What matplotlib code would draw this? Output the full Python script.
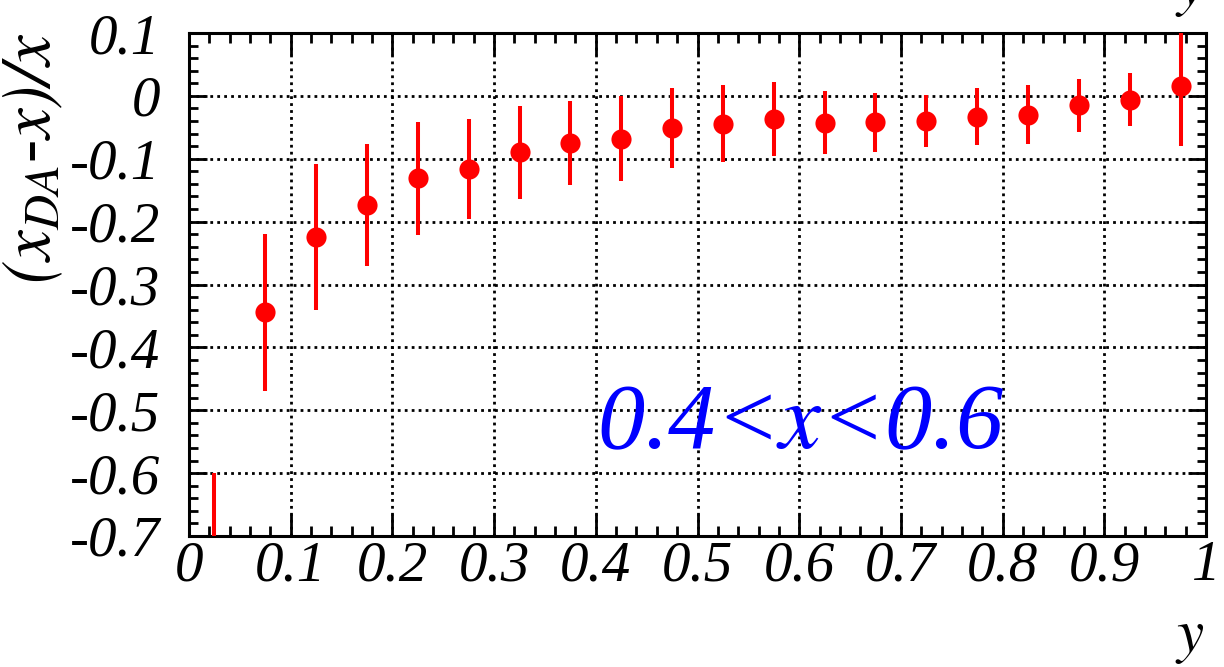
import matplotlib
matplotlib.use("Agg")
import matplotlib.pyplot as plt
from matplotlib.font_manager import FontProperties
from matplotlib.ticker import MultipleLocator, FixedLocator, FixedFormatter

plt.rcParams['font.family'] = ['Liberation Serif', 'DejaVu Serif']
plt.rcParams['font.style'] = 'italic'
plt.rcParams['mathtext.fontset'] = 'stix'
plt.rcParams['mathtext.default'] = 'it'
plt.rcParams['axes.unicode_minus'] = False

# ---- data ----
y_centers = [0.025, 0.075, 0.125, 0.175, 0.225, 0.275, 0.325, 0.375, 0.425, 0.475,
             0.525, 0.575, 0.625, 0.675, 0.725, 0.775, 0.825, 0.875, 0.925, 0.975]
rel_diff = [-0.90, -0.344, -0.224, -0.173, -0.131, -0.116, -0.090, -0.075, -0.068, -0.051,
            -0.044, -0.037, -0.043, -0.042, -0.040, -0.033, -0.030, -0.015, -0.006, 0.015]
rel_err = [0.30, 0.125, 0.116, 0.097, 0.090, 0.080, 0.074, 0.067, 0.068, 0.063,
           0.061, 0.059, 0.050, 0.047, 0.041, 0.045, 0.047, 0.042, 0.042, 0.095]

xtick_vals = [0, 0.1, 0.2, 0.3, 0.4, 0.5, 0.6, 0.7, 0.8, 0.9, 1.0]
xtick_labels = ["0", "0.1", "0.2", "0.3", "0.4", "0.5", "0.6", "0.7", "0.8", "0.9", "1"]
ytick_vals = [0.1, 0, -0.1, -0.2, -0.3, -0.4, -0.5, -0.6, -0.7]
ytick_labels = ["0.1", "0", "-0.1", "-0.2", "-0.3", "-0.4", "-0.5", "-0.6", "-0.7"]

FAM = 'Liberation Serif'
tick_fp = FontProperties(family=FAM, style='italic', size=41)

W, H = 1224, 667
fig = plt.figure(figsize=(W / 100, H / 100), dpi=100)
L, R, T, B = 189, 1206, 33, 536
ax = fig.add_axes([L / W, (H - B) / H, (R - L) / W, (B - T) / H])

ax.set_xlim(0, 1)
ax.set_ylim(-0.7, 0.1)

ax.errorbar(y_centers, rel_diff, yerr=rel_err, fmt='o', color='#ff0000',
            ecolor='#ff0000', elinewidth=2.9, markersize=14.5, capsize=0,
            markeredgewidth=0, zorder=3, clip_on=True)

ax.xaxis.set_major_locator(FixedLocator(xtick_vals))
ax.xaxis.set_major_formatter(FixedFormatter(xtick_labels))
ax.yaxis.set_major_locator(FixedLocator(ytick_vals))
ax.yaxis.set_major_formatter(FixedFormatter(ytick_labels))
ax.xaxis.set_minor_locator(MultipleLocator(0.02))
ax.yaxis.set_minor_locator(MultipleLocator(0.02))

ax.tick_params(axis='both', which='both', direction='in', top=True, right=True,
               color='black', width=2.0)
ax.tick_params(axis='x', which='major', length=16, pad=3)
ax.tick_params(axis='x', which='minor', length=7)
ax.tick_params(axis='y', which='major', length=13, pad=21)
ax.tick_params(axis='y', which='minor', length=6.5)

for lab in ax.get_xticklabels() + ax.get_yticklabels():
    lab.set_fontproperties(tick_fp)

for s in ax.spines.values():
    s.set_linewidth(2.2)

ax.grid(True, which='major', color='black', linestyle=(0, (1, 1.5)), linewidth=2.0)
ax.set_axisbelow(True)

ax.text(0.401, -0.56, r"0.4<$x$<0.6", color='#0000ff',
        fontproperties=FontProperties(family=FAM, style='italic', size=68),
        ha='left', va='baseline')

# y-axis title
fig.text(33 / W, 1 - 33 / H, r"$(x_{DA}$-$x)/x$", rotation=90, ha='center', va='top',
         fontproperties=FontProperties(family=FAM, style='italic', size=50))
# x-axis title
title_fp = FontProperties(family=FAM, style='italic', size=44)
fig.text(1205 / W, 1 - 651 / H, r"$y$", ha='right', va='baseline', fontproperties=title_fp)
# cut-off title from the panel above
fig.text(1205 / W, 1 - 4 / H, r"$y$", ha='right', va='baseline', fontproperties=title_fp)

fig.savefig("out.png", dpi=100)
